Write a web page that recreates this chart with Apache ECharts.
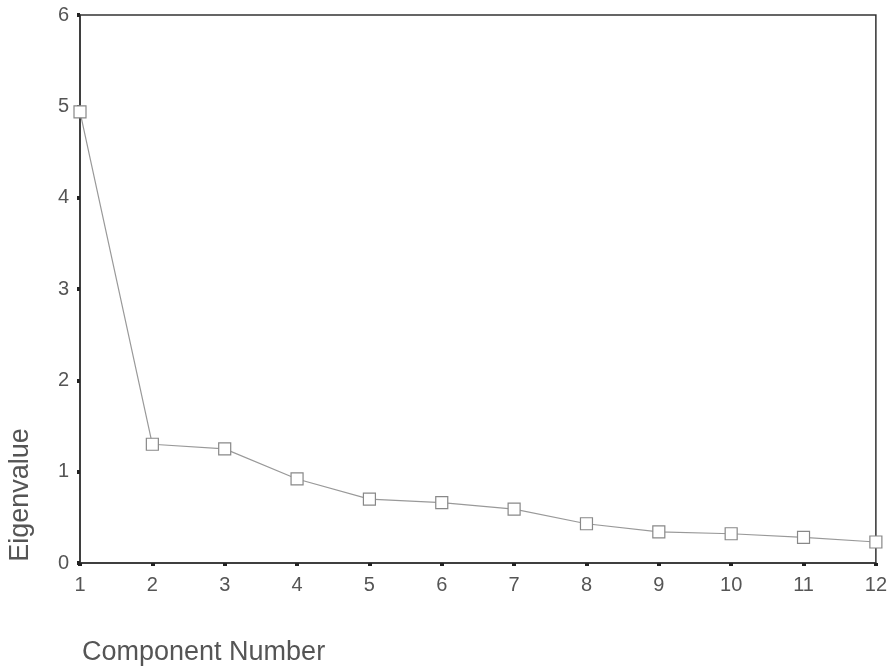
<!DOCTYPE html>
<html>
<head>
<meta charset="utf-8">
<script src="https://cdn.jsdelivr.net/npm/echarts@6/dist/echarts.min.js"></script>
<style>html,body{margin:0;padding:0;background:#fff;}#c{width:890px;height:669px;}</style>
</head>
<body>
<div id="c"></div>
<script>
const categories = ['1','2','3','4','5','6','7','8','9','10','11','12'];
const eigenvalues = [4.94, 1.30, 1.25, 0.92, 0.70, 0.66, 0.59, 0.43, 0.34, 0.32, 0.28, 0.23];
const yTicks = [0, 1, 2, 3, 4, 5, 6];
const xTitle = 'Component Number';
const yTitle = 'Eigenvalue';

const chart = echarts.init(document.getElementById('c'));
const font = 'Liberation Sans, Arial, sans-serif';
chart.setOption({
  animation: false,
  backgroundColor: '#fff',
  grid: { left: 80, right: 12, top: 15, bottom: 106, show: true, borderColor: '#333', borderWidth: 1.5, backgroundColor: 'transparent' },
  xAxis: {
    type: 'category', data: categories, boundaryGap: false,
    axisLine: { lineStyle: { color: '#333', width: 1.5 } },
    axisTick: { show: true, alignWithLabel: true, length: 3, lineStyle: { color: '#222', width: 4 } },
    axisLabel: { color: '#555', fontSize: 20, fontFamily: font, margin: 12, showMaxLabel: true, showMinLabel: true, interval: 0 },
    splitLine: { show: false }
  },
  yAxis: {
    type: 'value', min: yTicks[0], max: yTicks[yTicks.length - 1], interval: 1,
    axisLine: { show: true, lineStyle: { color: '#333', width: 1.5 } },
    axisTick: { show: true, length: 3, lineStyle: { color: '#222', width: 4 } },
    axisLabel: { color: '#555', fontSize: 20, fontFamily: font, margin: 11 },
    splitLine: { show: false }
  },
  graphic: [
    { type: 'text', left: 82, top: 639, style: { text: xTitle, fill: '#555', font: '27px ' + font } },
    { type: 'text', x: 21, y: 495, rotation: Math.PI / 2, style: { text: yTitle, fill: '#555', font: '27px ' + font, align: 'center', verticalAlign: 'middle' } }
  ],
  series: [{
    type: 'line', data: eigenvalues,
    symbol: 'rect', symbolSize: 12,
    itemStyle: { color: '#fff', borderColor: '#888', borderWidth: 1.2 },
    lineStyle: { color: '#999', width: 1.2 }
  }]
});
</script>
</body>
</html>
